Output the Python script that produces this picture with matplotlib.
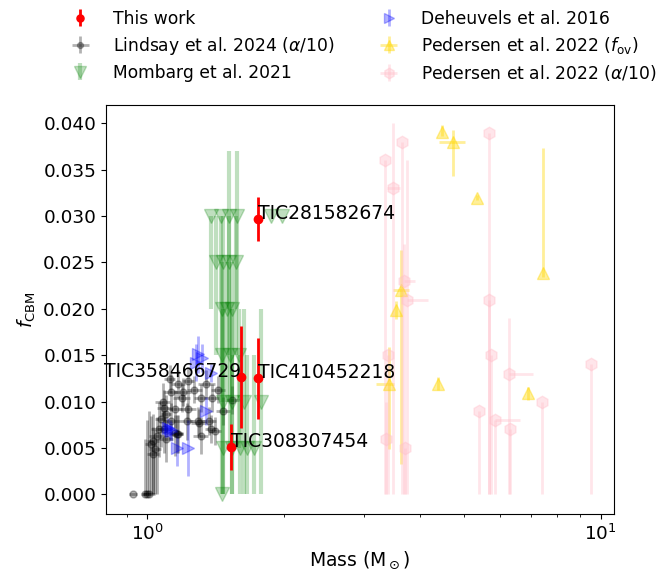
import numpy as np
import matplotlib
matplotlib.use("Agg")
import matplotlib.pyplot as plt

# This work
tw_names = ["TIC281582674", "TIC358466729", "TIC410452218", "TIC308307454"]
tw_mass = [1.75, 1.61, 1.75, 1.53]
tw_f = [0.0297, 0.0126, 0.0125, 0.0051]
tw_ferr = [0.0024, 0.0055, 0.0044, 0.0025]

# Lindsay et al. 2024 (alpha/10)
li_mass = [0.93, 0.99, 1.00, 1.01, 1.02, 1.03, 1.04, 1.05, 1.06, 1.07,
           1.09, 1.10, 1.12, 1.13, 1.13, 1.15, 1.15, 1.17, 1.17, 1.19,
           1.22, 1.23, 1.23, 1.29, 1.31, 1.31, 1.35, 1.37, 1.38, 1.39,
           1.41, 1.43, 1.47, 1.54, 1.10, 1.08, 1.20, 1.27, 1.03, 1.09,
           1.16, 1.30]
li_f = [0.0, 0.0, 0.0, 0.0, 0.0054, 0.0043, 0.0049, 0.0063, 0.0070, 0.0081,
        0.0093, 0.0087, 0.0124, 0.0110, 0.0079, 0.0092, 0.0066, 0.0119, 0.0065, 0.0104,
        0.0079, 0.0092, 0.0122, 0.0079, 0.0104, 0.0063, 0.0119, 0.0079, 0.0070, 0.0104,
        0.0068, 0.0113, 0.0090, 0.0102, 0.0060, 0.0100, 0.0110, 0.0113, 0.0057, 0.0070,
        0.0065, 0.0077]
li_merr = [0.02, 0.02, 0.02, 0.03, 0.03, 0.03, 0.03, 0.04, 0.04, 0.03,
           0.04, 0.03, 0.03, 0.04, 0.05, 0.04, 0.05, 0.04, 0.03, 0.05,
           0.04, 0.05, 0.04, 0.05, 0.04, 0.05, 0.06, 0.05, 0.04, 0.05,
           0.04, 0.05, 0.05, 0.05, 0.04, 0.04, 0.05, 0.05, 0.03, 0.04,
           0.04, 0.05]
li_flo = [0.0, 0.0, 0.0, 0.0, 0.0054, 0.0043, 0.0049, 0.0063, 0.0030, 0.0030,
          0.0020, 0.0020, 0.0015, 0.0020, 0.0020, 0.0020, 0.0025, 0.0015, 0.0020, 0.0015,
          0.0020, 0.0015, 0.0015, 0.0015, 0.0015, 0.0020, 0.0015, 0.0015, 0.0015, 0.0015,
          0.0015, 0.0015, 0.0015, 0.0015, 0.0025, 0.0020, 0.0015, 0.0015, 0.0057, 0.0025,
          0.0020, 0.0015]
li_fhi = [0.0, 0.006, 0.008, 0.009, 0.003, 0.003, 0.002, 0.002, 0.003, 0.002,
          0.002, 0.002, 0.0015, 0.002, 0.002, 0.002, 0.002, 0.0015, 0.002, 0.0015,
          0.002, 0.0015, 0.0015, 0.0015, 0.0015, 0.002, 0.0015, 0.0015, 0.0015, 0.0015,
          0.0015, 0.0015, 0.0015, 0.0015, 0.002, 0.002, 0.0015, 0.0015, 0.003, 0.002,
          0.002, 0.0015]

# Mombarg et al. 2021
mo_mass = [1.38, 1.45, 1.51, 1.58, 1.87, 1.98,
           1.42, 1.47, 1.51, 1.57,
           1.46, 1.50, 1.54,
           1.46, 1.52, 1.59,
           1.47, 1.54, 1.63, 1.78,
           1.47, 1.54, 1.60, 1.66, 1.72,
           1.46]
mo_f = [0.030] * 6 + [0.025] * 4 + [0.020] * 3 + [0.015] * 3 + [0.010] * 4 + [0.005] * 5 + [0.0]
mo_flo = [0.01, 0.01, 0.01, 0.01, 0.0, 0.0,
          0.01, 0.01, 0.01, 0.01,
          0.01, 0.01, 0.01,
          0.01, 0.01, 0.01,
          0.01, 0.01, 0.01, 0.01,
          0.005, 0.005, 0.005, 0.005, 0.005,
          0.0]
mo_fhi = [0.0, 0.0, 0.007, 0.007, 0.0, 0.0,
          0.005, 0.005, 0.005, 0.005,
          0.005, 0.005, 0.005,
          0.005, 0.005, 0.005,
          0.01, 0.01, 0.01, 0.01,
          0.01, 0.01, 0.01, 0.01, 0.01,
          0.005]

# Deheuvels et al. 2016
de_mass = [1.29, 1.28, 1.32, 1.38, 1.35, 1.11, 1.12, 1.16, 1.23, 1.13]
de_f = [0.0151, 0.0142, 0.0147, 0.0131, 0.0090, 0.0072, 0.0070, 0.0050, 0.0050, 0.0068]
de_ferr = [0.0020, 0.0020, 0.0015, 0.0010, 0.0015, 0.0010, 0.0010, 0.0020, 0.0030, 0.0010]

# Pedersen et al. 2022 (f_ov)
pf_mass = [4.47, 4.72, 5.34, 7.47, 3.63, 3.53, 3.41, 4.37, 6.92]
pf_f = [0.0391, 0.0380, 0.0320, 0.0239, 0.0220, 0.0199, 0.0119, 0.0119, 0.0109]
pf_flo = [0.0005, 0.0037, 0.0003, 0.0005, 0.0187, 0.0010, 0.0070, 0.0007, 0.0007]
pf_fhi = [0.0007, 0.0013, 0.0003, 0.0134, 0.0043, 0.0010, 0.0040, 0.0007, 0.0007]
pf_mlo = [0.0, 0.33, 0.0, 0.0, 0.15, 0.0, 0.22, 0.0, 0.0]
pf_mhi = [0.0, 0.30, 0.0, 0.0, 0.15, 0.0, 0.09, 0.0, 0.0]

# Pedersen et al. 2022 (alpha/10)
pa_mass = [3.34, 3.49, 3.65, 3.74, 3.68, 3.40, 3.36, 3.70, 5.67,
           5.67, 5.72, 6.28, 5.39, 5.84, 6.30, 7.43, 9.50]
pa_f = [0.036, 0.033, 0.038, 0.021, 0.023, 0.015, 0.006, 0.005, 0.039,
        0.021, 0.015, 0.013, 0.009, 0.008, 0.007, 0.010, 0.014]
pa_fhi = [0.0, 0.007, 0.0, 0.015, 0.004, 0.0, 0.004, 0.0, 0.0,
          0.0, 0.0, 0.006, 0.0, 0.0, 0.0, 0.0, 0.0]
pa_mlo = [0.0, 0.12, 0.0, 0.0, 0.0, 0.0, 0.0, 0.0, 0.0,
          0.0, 0.0, 0.0, 0.0, 0.0, 0.0, 0.0, 0.0]
pa_mhi = [0.0, 0.12, 0.0, 0.42, 0.21, 0.0, 0.0, 0.0, 0.0,
          0.0, 0.0, 0.80, 0.0, 0.80, 0.0, 0.0, 0.0]

fig, ax = plt.subplots(figsize=(6.66, 5.76), dpi=100)
fig.subplots_adjust(left=0.159, right=0.922, top=0.818, bottom=0.108)

ax.errorbar(tw_mass, tw_f, yerr=tw_ferr, fmt='o', color='red', ms=6,
            elinewidth=2, label='This work', zorder=10)
ax.errorbar(li_mass, li_f, xerr=li_merr, yerr=[li_flo, li_fhi], fmt='o', color='k',
            ms=5, alpha=0.3, elinewidth=2, label=r'Lindsay et al. 2024 ($\alpha$/10)')
ax.errorbar(mo_mass, mo_f, yerr=[mo_flo, mo_fhi], fmt='v', color='green',
            ms=10, alpha=0.25, elinewidth=3, label='Mombarg et al. 2021')
ax.errorbar(de_mass, de_f, yerr=de_ferr, fmt='>', color='blue',
            ms=8, alpha=0.3, elinewidth=2, label='Deheuvels et al. 2016')
ax.errorbar(pf_mass, pf_f, xerr=[pf_mlo, pf_mhi], yerr=[pf_flo, pf_fhi], fmt='^',
            color='gold', ms=9, alpha=0.4, elinewidth=2,
            label=r'Pedersen et al. 2022 ($f_{\rm ov}$)')
ax.errorbar(pa_mass, pa_f, xerr=[pa_mlo, pa_mhi], yerr=[pa_f, pa_fhi], fmt='h',
            color='pink', ms=9, alpha=0.4, elinewidth=2,
            label=r'Pedersen et al. 2022 ($\alpha$/10)')

for name, m, f in zip(tw_names, tw_mass, tw_f):
    ha = 'right' if name == "TIC358466729" else 'left'
    ax.text(m, f, name, fontsize=13.5, ha=ha, zorder=11)

ax.set_xscale('log')
ax.set_xlim(0.81, 10.7)
ax.set_ylim(-0.0021, 0.042)
ax.set_yticks(np.arange(0, 0.0401, 0.005))
ax.tick_params(labelsize=13.3)
ax.set_xlabel(r'Mass (M$_\odot$)', fontsize=13.5)
ax.set_ylabel(r'$f_{\rm CBM}$', fontsize=13.5)
ax.legend(loc='lower center', bbox_to_anchor=(0.5, 1.017), ncol=2, frameon=False,
          fontsize=12.3, columnspacing=2.2, labelspacing=0.4, handletextpad=0.9,
          markerscale=0.85)

fig.savefig('out.png')
